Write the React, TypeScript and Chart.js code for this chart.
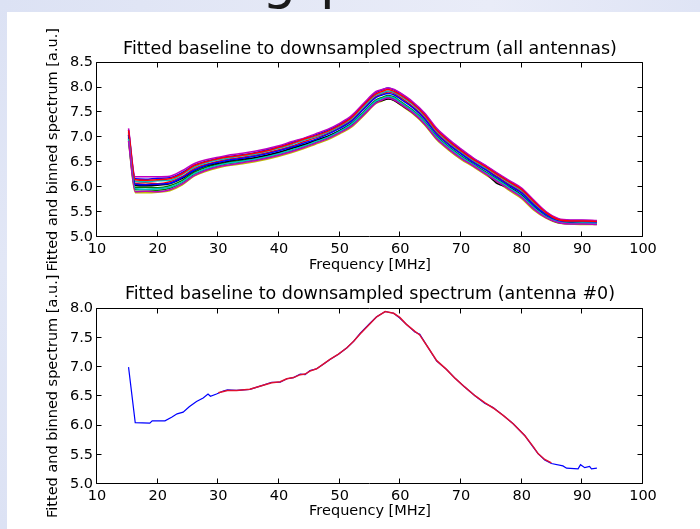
import React, { useEffect, useRef } from "react";
import { Chart, registerables } from "chart.js";

Chart.register(...registerables);

const FONT = "'DejaVu Sans', 'Bitstream Vera Sans', sans-serif";

// ---------- text ----------
const TOP_TITLE = "Fitted baseline to downsampled spectrum (all antennas)";
const BOTTOM_TITLE = "Fitted baseline to downsampled spectrum (antenna #0)";
const X_LABEL = "Frequency [MHz]";
const Y_LABEL = "Fitted and binned spectrum [a.u.]";

// ---------- axes ----------
const X_MIN = 10;
const X_MAX = 100;
const X_STEP = 10;
const Y_MIN = 5;
const TOP_Y_MAX = 8.5;
const BOTTOM_Y_MAX = 8.0;
const Y_STEP = 0.5;

// ---------- top panel: all antennas ----------
const FREQ = [15.2, 16.3, 18, 20, 22, 24, 26, 28, 30, 32, 34, 36, 38, 40, 42, 44, 46, 48, 50, 52, 54, 56, 57, 58, 59, 60, 62, 64, 66, 68, 70, 72, 74, 76, 78, 80, 82, 84, 86, 88, 90, 92.4];

const ANT_A = [7.15, 6.17, 6.16, 6.18, 6.19, 6.29, 6.44, 6.52, 6.58, 6.62, 6.65, 6.69, 6.75, 6.81, 6.89, 6.97, 7.05, 7.14, 7.26, 7.42, 7.67, 7.90, 7.95, 7.99, 7.95, 7.88, 7.70, 7.47, 7.16, 6.94, 6.75, 6.58, 6.43, 6.27, 6.11, 5.96, 5.72, 5.50, 5.36, 5.33, 5.33, 5.32];
const ANT_B = [7.00, 6.00, 6.00, 5.99, 6.03, 6.13, 6.30, 6.40, 6.46, 6.51, 6.54, 6.58, 6.63, 6.69, 6.77, 6.84, 6.93, 7.02, 7.14, 7.29, 7.52, 7.75, 7.80, 7.84, 7.81, 7.72, 7.55, 7.32, 7.02, 6.81, 6.63, 6.47, 6.31, 6.16, 6.00, 5.84, 5.61, 5.42, 5.31, 5.28, 5.29, 5.27];
const ANT_C = [7.08, 6.08, 6.09, 6.07, 6.11, 6.21, 6.37, 6.46, 6.52, 6.57, 6.60, 6.64, 6.69, 6.75, 6.82, 6.91, 6.99, 7.08, 7.20, 7.35, 7.59, 7.82, 7.87, 7.91, 7.88, 7.80, 7.62, 7.40, 7.09, 6.87, 6.69, 6.52, 6.37, 6.21, 6.05, 5.90, 5.66, 5.46, 5.33, 5.30, 5.30, 5.29];
const ANT_D = [7.11, 6.12, 6.11, 6.13, 6.14, 6.25, 6.40, 6.49, 6.55, 6.59, 6.63, 6.66, 6.72, 6.78, 6.85, 6.94, 7.01, 7.10, 7.22, 7.38, 7.62, 7.85, 7.89, 7.93, 7.90, 7.83, 7.66, 7.43, 7.12, 6.90, 6.71, 6.54, 6.39, 6.24, 6.08, 5.93, 5.69, 5.48, 5.35, 5.31, 5.32, 5.31];
const ANT_E = [7.18, 6.21, 6.21, 6.21, 6.22, 6.33, 6.47, 6.55, 6.60, 6.65, 6.68, 6.72, 6.77, 6.83, 6.91, 6.98, 7.07, 7.16, 7.28, 7.44, 7.69, 7.92, 7.96, 7.99, 7.96, 7.89, 7.72, 7.49, 7.18, 6.96, 6.77, 6.59, 6.44, 6.28, 6.13, 5.98, 5.74, 5.51, 5.37, 5.34, 5.34, 5.33];
const ANT_F = [6.92, 5.89, 5.89, 5.90, 5.93, 6.04, 6.22, 6.32, 6.39, 6.44, 6.47, 6.51, 6.56, 6.62, 6.69, 6.77, 6.86, 6.95, 7.07, 7.21, 7.44, 7.68, 7.73, 7.78, 7.74, 7.65, 7.48, 7.25, 6.95, 6.74, 6.56, 6.41, 6.25, 6.10, 5.93, 5.77, 5.54, 5.38, 5.28, 5.26, 5.25, 5.25];
const ANT_G = [7.04, 6.04, 6.03, 6.04, 6.07, 6.17, 6.33, 6.43, 6.48, 6.53, 6.56, 6.59, 6.64, 6.70, 6.78, 6.85, 6.94, 7.02, 7.13, 7.27, 7.47, 7.70, 7.74, 7.77, 7.74, 7.66, 7.50, 7.28, 6.98, 6.77, 6.60, 6.44, 6.29, 6.07, 5.99, 5.83, 5.60, 5.42, 5.30, 5.28, 5.28, 5.27];
const ANT_H = [7.05, 6.06, 6.05, 6.06, 6.08, 6.19, 6.34, 6.44, 6.50, 6.55, 6.58, 6.62, 6.67, 6.73, 6.80, 6.88, 6.96, 7.06, 7.18, 7.33, 7.57, 7.80, 7.85, 7.88, 7.85, 7.77, 7.60, 7.37, 7.06, 6.85, 6.67, 6.50, 6.35, 6.19, 6.03, 5.88, 5.64, 5.45, 5.32, 5.30, 5.30, 5.29];
const ANT_I = [6.96, 5.95, 5.95, 5.94, 5.98, 6.09, 6.26, 6.36, 6.43, 6.48, 6.51, 6.55, 6.60, 6.66, 6.73, 6.81, 6.90, 6.99, 7.11, 7.25, 7.48, 7.71, 7.76, 7.81, 7.77, 7.69, 7.52, 7.29, 6.99, 6.78, 6.60, 6.44, 6.28, 6.13, 5.97, 5.81, 5.58, 5.40, 5.29, 5.27, 5.27, 5.26];
const ANT_J = [7.14, 6.15, 6.14, 6.15, 6.17, 6.27, 6.43, 6.51, 6.57, 6.61, 6.64, 6.68, 6.73, 6.80, 6.87, 6.96, 7.03, 7.12, 7.24, 7.40, 7.65, 7.87, 7.92, 7.96, 7.92, 7.85, 7.68, 7.45, 7.14, 6.92, 6.73, 6.56, 6.41, 6.25, 6.10, 5.95, 5.71, 5.49, 5.35, 5.32, 5.32, 5.31];
const ANT_K = [6.97, 5.97, 5.96, 5.97, 6.00, 6.10, 6.27, 6.37, 6.44, 6.49, 6.52, 6.56, 6.61, 6.67, 6.74, 6.82, 6.91, 7.00, 7.12, 7.27, 7.50, 7.73, 7.78, 7.82, 7.79, 7.70, 7.53, 7.30, 7.00, 6.79, 6.61, 6.45, 6.29, 6.14, 5.98, 5.82, 5.59, 5.41, 5.30, 5.27, 5.28, 5.27];
const ANT_L = [6.93, 5.91, 5.92, 5.91, 5.95, 6.06, 6.23, 6.34, 6.41, 6.45, 6.49, 6.53, 6.58, 6.64, 6.71, 6.79, 6.88, 6.97, 7.09, 7.23, 7.46, 7.69, 7.75, 7.79, 7.75, 7.67, 7.50, 7.27, 6.97, 6.76, 6.58, 6.43, 6.27, 6.11, 5.95, 5.79, 5.56, 5.39, 5.29, 5.26, 5.26, 5.25];

const ANTENNAS = [ANT_A, ANT_B, ANT_C, ANT_D, ANT_E, ANT_F, ANT_G, ANT_H, ANT_I, ANT_J, ANT_K, ANT_L];
const CYCLE = ["#0000ff", "#008000", "#ff0000", "#00bfbf", "#bf00bf", "#bfbf00", "#000000"];

// ---------- bottom panel: antenna #0 ----------
const ANT0_FREQ = [15.2, 16.3, 18.7, 19.1, 21.2, 22.3, 23.2, 24.2, 25.2, 26.4, 27.5, 28.3, 28.7, 29.7, 30.8, 31.5, 33.0, 35.2, 37.4, 38.8, 40.2, 41.3, 42.4, 43.5, 44.3, 45.1, 46.2, 47.3, 48.4, 49.8, 51.2, 52.3, 53.4, 55.0, 56.1, 57.5, 58.9, 59.9, 61.0, 62.4, 63.2, 64.6, 66.0, 67.6, 69.0, 70.6, 72.3, 73.9, 75.3, 77.0, 78.6, 80.5, 81.9, 82.7, 83.8, 84.9, 86.8, 87.4, 89.3, 89.7, 90.4, 91.2, 91.5, 92.4];
const ANT0_VALS = [7.0, 6.05, 6.04, 6.08, 6.08, 6.14, 6.2, 6.23, 6.32, 6.41, 6.47, 6.54, 6.5, 6.54, 6.59, 6.61, 6.6, 6.62, 6.69, 6.74, 6.74, 6.8, 6.82, 6.88, 6.87, 6.94, 6.97, 7.05, 7.13, 7.22, 7.33, 7.44, 7.58, 7.75, 7.86, 7.95, 7.92, 7.84, 7.73, 7.6, 7.56, 7.33, 7.1, 6.96, 6.81, 6.66, 6.51, 6.38, 6.31, 6.17, 6.03, 5.83, 5.63, 5.52, 5.41, 5.35, 5.31, 5.27, 5.26, 5.33, 5.28, 5.3, 5.26, 5.27];

const FIT_FREQ = [30.0, 31.5, 33.0, 35.2, 37.4, 38.8, 40.2, 41.3, 42.4, 43.5, 44.3, 45.1, 46.2, 47.3, 48.4, 49.8, 51.2, 52.3, 53.4, 55.0, 56.1, 57.5, 58.9, 59.9, 61.0, 62.4, 63.2, 64.6, 66.0, 67.6, 69.0, 70.6, 72.3, 73.9, 75.3, 77.0, 78.6, 80.5, 81.9, 82.7, 83.8, 84.9];
const FIT_VALS = [6.56, 6.6, 6.6, 6.62, 6.69, 6.73, 6.75, 6.8, 6.82, 6.87, 6.88, 6.93, 6.97, 7.05, 7.13, 7.22, 7.33, 7.44, 7.57, 7.74, 7.86, 7.95, 7.92, 7.85, 7.73, 7.61, 7.55, 7.33, 7.11, 6.96, 6.81, 6.66, 6.51, 6.39, 6.3, 6.17, 6.03, 5.83, 5.64, 5.52, 5.42, 5.36];

function pts(xs: number[], ys: number[]) {
  return xs.map((x, i) => ({ x, y: ys[i] }));
}

// matplotlib-style frame with inward ticks on all four sides
const framePlugin = {
  id: "mplFrame",
  afterDraw(chart: any) {
    const { ctx, chartArea } = chart;
    const xs = chart.scales.x;
    const ys = chart.scales.y;
    const l = Math.round(chartArea.left) - 0.5;
    const r = Math.round(chartArea.right) - 0.5;
    const t = Math.round(chartArea.top) - 0.5;
    const b = Math.round(chartArea.bottom) - 0.5;
    const TL = 5;
    ctx.save();
    ctx.strokeStyle = "#000";
    ctx.lineWidth = 1;
    ctx.beginPath();
    xs.ticks.forEach((tk: any) => {
      const px = Math.round(xs.getPixelForValue(tk.value)) - 0.5;
      ctx.moveTo(px, b);
      ctx.lineTo(px, b - TL);
      ctx.moveTo(px, t);
      ctx.lineTo(px, t + TL);
    });
    ys.ticks.forEach((tk: any) => {
      const py = Math.round(ys.getPixelForValue(tk.value)) - 0.5;
      ctx.moveTo(l, py);
      ctx.lineTo(l + TL, py);
      ctx.moveTo(r, py);
      ctx.lineTo(r - TL, py);
    });
    ctx.stroke();
    ctx.beginPath();
    ctx.rect(l, t, r - l, b - t);
    ctx.stroke();
    ctx.restore();
  },
};

type Layout = {
  title: string;
  yMax: number;
  titleTop: number;
  titleBottom: number;
  xHeight: number;
  xTitleBottom: number;
};

const AXIS_FONT = 14.5;

function buildOptions(p: Layout): any {
  return {
    responsive: false,
    maintainAspectRatio: false,
    animation: false,
    devicePixelRatio: 1,
    events: [],
    layout: { padding: { left: 0, right: 57, top: 0, bottom: 0 } },
    plugins: {
      legend: { display: false },
      tooltip: { enabled: false },
      title: {
        display: true,
        text: p.title,
        fullSize: false,
        color: "#000",
        font: { family: FONT, size: 17.5, weight: "normal", lineHeight: 1.2 },
        padding: { top: p.titleTop, bottom: p.titleBottom },
      },
    },
    scales: {
      x: {
        type: "linear",
        min: X_MIN,
        max: X_MAX,
        grid: { display: false, drawTicks: false, tickLength: 0 },
        border: { display: false },
        ticks: {
          stepSize: X_STEP,
          autoSkip: false,
          maxRotation: 0,
          padding: 4,
          color: "#000",
          font: { family: FONT, size: AXIS_FONT },
          callback: (v: any) => String(v),
        },
        title: {
          display: true,
          text: X_LABEL,
          color: "#000",
          font: { family: FONT, size: AXIS_FONT, lineHeight: 1.2 },
          padding: { top: 0, bottom: p.xTitleBottom },
        },
        afterFit: (s: any) => {
          s.height = p.xHeight;
        },
      },
      y: {
        type: "linear",
        min: Y_MIN,
        max: p.yMax,
        grid: { display: false, drawTicks: false, tickLength: 0 },
        border: { display: false },
        ticks: {
          stepSize: Y_STEP,
          autoSkip: false,
          padding: 4,
          color: "#000",
          font: { family: FONT, size: AXIS_FONT },
          callback: (v: any) => Number(v).toFixed(1),
        },
        title: {
          display: true,
          text: Y_LABEL,
          color: "#000",
          font: { family: FONT, size: AXIS_FONT, lineHeight: 1.2 },
          padding: { top: 45, bottom: 0 },
        },
        afterFit: (s: any) => {
          s.width = 97;
        },
      },
    },
  };
}

function topConfig(): any {
  // matplotlib draws the first series at the bottom; Chart.js draws dataset 0 on top
  const datasets = ANTENNAS.map((vals, i) => ({
    data: pts(FREQ, vals),
    borderColor: CYCLE[i % CYCLE.length],
    borderWidth: 1.5,
    pointRadius: 0,
    fill: false,
    cubicInterpolationMode: "monotone",
  })).reverse();
  return {
    type: "line",
    data: { datasets },
    options: buildOptions({
      title: TOP_TITLE,
      yMax: TOP_Y_MAX,
      titleTop: 38.8,
      titleBottom: 2.8,
      xHeight: 43,
      xTitleBottom: 6.3,
    }),
    plugins: [framePlugin],
  };
}

function bottomConfig(): any {
  return {
    type: "line",
    data: {
      datasets: [
        {
          data: pts(FIT_FREQ, FIT_VALS),
          borderColor: "#e0102e",
          borderWidth: 1.5,
          pointRadius: 0,
          fill: false,
          tension: 0,
        },
        {
          data: pts(ANT0_FREQ, ANT0_VALS),
          borderColor: "#0000ff",
          borderWidth: 1.2,
          pointRadius: 0,
          fill: false,
          tension: 0,
        },
      ],
    },
    options: buildOptions({
      title: BOTTOM_TITLE,
      yMax: BOTTOM_Y_MAX,
      titleTop: 14.3,
      titleBottom: 3.3,
      xHeight: 45,
      xTitleBottom: 8.8,
    }),
    plugins: [framePlugin],
  };
}

function ChartCanvas(props: { top: number; height: number; build: () => any }) {
  const ref = useRef<HTMLCanvasElement>(null);
  useEffect(() => {
    if (!ref.current) return;
    const chart = new Chart(ref.current, props.build());
    return () => chart.destroy();
  }, []);
  return (
    <canvas
      ref={ref}
      width={700}
      height={props.height}
      style={{ position: "absolute", left: 0, top: props.top, width: 700, height: props.height }}
    />
  );
}

export default function App() {
  return (
    <div
      style={{
        position: "fixed",
        left: 0,
        top: 0,
        width: 700,
        height: 529,
        background: "#ffffff",
        overflow: "hidden",
      }}
    >
      <div
        style={{
          position: "absolute",
          left: 0,
          top: 0,
          width: 700,
          height: 12,
          background: "linear-gradient(90deg, #dce2f4 0%, #e4e8f6 40%, #e9ecf8 70%, #dfe4f5 100%)",
          overflow: "hidden",
        }}
      >
        <span
          style={{
            position: "absolute",
            left: 262,
            top: -46.7,
            fontFamily: FONT,
            fontSize: 54,
            lineHeight: "54px",
            color: "#1a1a1a",
          }}
        >
          g
        </span>
        <span
          style={{
            position: "absolute",
            left: 320,
            top: -46.7,
            fontFamily: FONT,
            fontSize: 54,
            lineHeight: "54px",
            color: "#1a1a1a",
          }}
        >
          p
        </span>
      </div>
      <div
        style={{
          position: "absolute",
          left: 0,
          top: 0,
          width: 7,
          height: 529,
          background: "linear-gradient(180deg, #dce2f4 0%, #e2e7f6 50%, #dce2f4 100%)",
        }}
      />
      <ChartCanvas top={0} height={280} build={topConfig} />
      <ChartCanvas top={270} height={259} build={bottomConfig} />
    </div>
  );
}
